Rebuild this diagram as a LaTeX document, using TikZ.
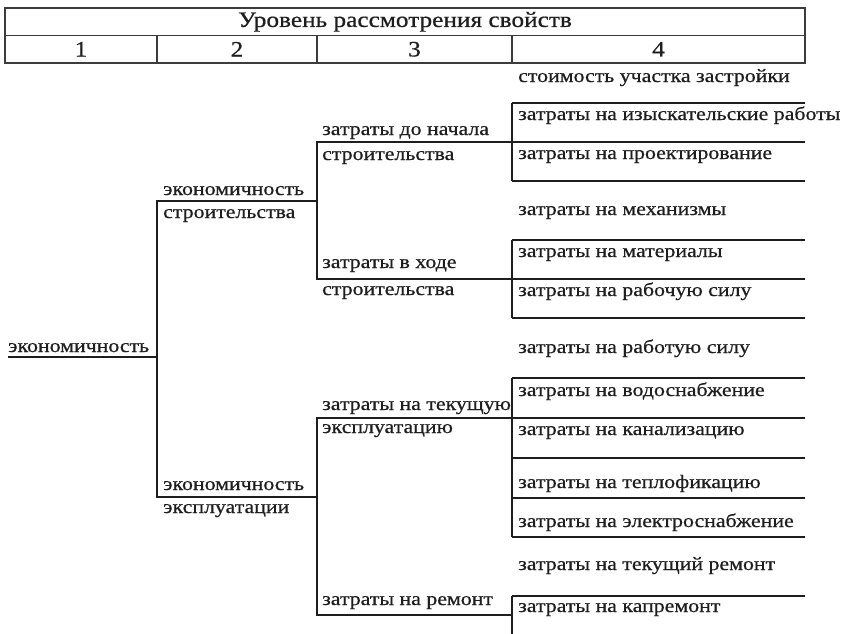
\documentclass[tikz,border=0pt]{standalone}
\usepackage{fontspec}
\setmainfont[FakeStretch=1.15,FakeBold=0.6]{Liberation Serif}
\usetikzlibrary{positioning}
\definecolor{ink}{HTML}{1E1E1E}
\definecolor{rule}{HTML}{3C3C3C}
\tikzset{
  every node/.style={text=ink,inner sep=0pt},
  lbl/.style={font=\fontsize{19}{21}\selectfont,anchor=base west},
  cell/.style={draw=rule,line width=1.3pt,outer sep=0pt,font=\fontsize{22}{24}\selectfont,minimum height=27.5pt},
  branch/.style={draw=ink,line width=2.8pt},
}
\begin{document}
\begin{tikzpicture}[x=1pt,y=-1pt]
\useasboundingbox (0,0) rectangle (843,633);
% header table
\node[cell,anchor=north west,minimum width=800pt] (head) at (5,8) {Уровень рассмотрения свойств};
\node[cell,anchor=north west,minimum width=152pt] (c1) at (head.south west) {1};
\node[cell,right=0pt of c1,minimum width=160pt] (c2) {2};
\node[cell,right=0pt of c2,minimum width=195pt] (c3) {3};
\node[cell,right=0pt of c3,minimum width=293pt] (c4) {4};
% level 1
\node[lbl] (root) at (8,352) {экономичность};
\coordinate (r0) at (8,357);
\coordinate (r1) at (157,357);
\draw[branch] (r0) -- (r1);
% level 2
\coordinate (s0) at (157,201); \coordinate (s1) at (317,201);
\coordinate (e0) at (157,497); \coordinate (e1) at (317,497);
\draw[branch] (s1) -- (s0) -- (e0) -- (e1);
\node[lbl] (build) at (163,195) {экономичность};
\node[lbl] (buildb) at (163,218) {строительства};
\node[lbl] (use) at (163,490) {экономичность};
\node[lbl] (useb) at (163,513) {эксплуатации};
% level 3
\coordinate (a0) at (317,142); \coordinate (a1) at (512,142);
\coordinate (b0) at (317,279); \coordinate (b1) at (512,279);
\coordinate (t0) at (317,418); \coordinate (t1) at (512,418);
\coordinate (m0) at (317,615); \coordinate (m1) at (512,615);
\draw[branch] (a1) -- (a0) -- (b0) -- (b1);
\draw[branch] (t1) -- (t0) -- (m0) -- (m1);
\node[lbl] (pre) at (322,135) {затраты до начала};
\node[lbl] (preb) at (322,160) {строительства};
\node[lbl] (dur) at (322,268) {затраты в ходе};
\node[lbl] (durb) at (322,295) {строительства};
\node[lbl] (run) at (322,410) {затраты на текущую};
\node[lbl] (runb) at (322,433) {эксплуатацию};
\node[lbl] (rep) at (322,605) {затраты на ремонт};
% level 4
\foreach \y [count=\i] in {103,142,181,240,279,318,378,418,458,498,537,596,635}{
  \coordinate (L\i) at (512,\y);
  \coordinate (R\i) at (805,\y);
  \draw[branch] (L\i) -- (R\i);
}
\draw[branch] (L1) -- (L3);
\draw[branch] (L4) -- (L6);
\draw[branch] (L7) -- (L11);
\draw[branch] (L12) -- (L13);
\node[lbl] (site) at (518,82) {стоимость участка застройки};
\node[lbl] (survey) at (518,120) {затраты на изыскательские работы};
\node[lbl] (design) at (518,159) {затраты на проектирование};
\node[lbl] (mech) at (518,215) {затраты на механизмы};
\node[lbl] (mat) at (518,257) {затраты на материалы};
\node[lbl] (labour) at (518,296) {затраты на рабочую силу};
\node[lbl] (labourb) at (518,353) {затраты на работую силу};
\node[lbl] (water) at (518,396) {затраты на водоснабжение};
\node[lbl] (sewer) at (518,435) {затраты на канализацию};
\node[lbl] (heat) at (518,488) {затраты на теплофикацию};
\node[lbl] (power) at (518,527) {затраты на электроснабжение};
\node[lbl] (curr) at (518,570) {затраты на текущий ремонт};
\node[lbl] (major) at (518,612) {затраты на капремонт};
\end{tikzpicture}
\end{document}
